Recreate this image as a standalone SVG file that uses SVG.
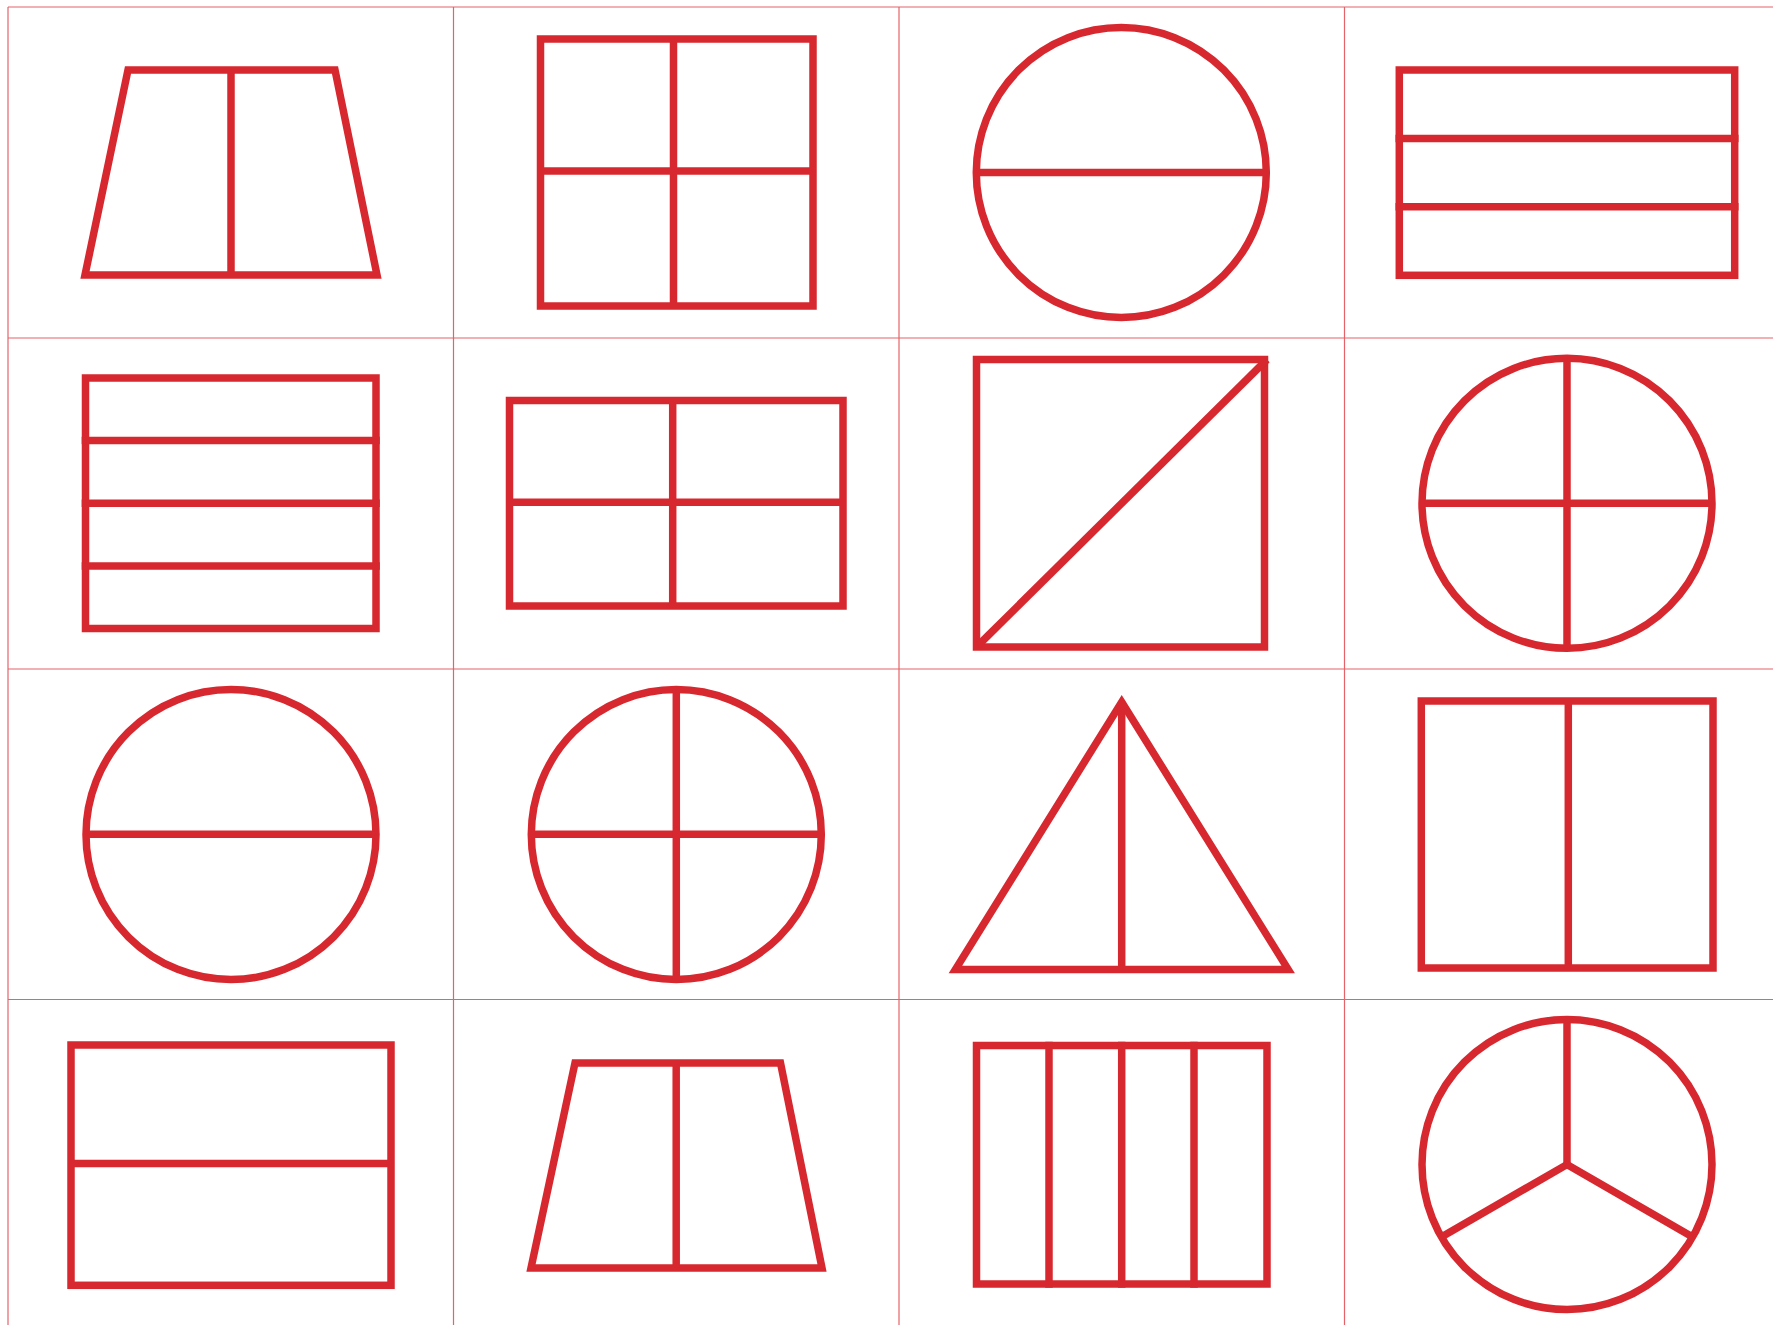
<svg xmlns="http://www.w3.org/2000/svg" width="1773" height="1325" viewBox="0 0 1773 1325">
<style>
.grid{stroke:#e0474e;stroke-width:1.2;fill:none;opacity:0.85}
.s{stroke:#d7282f;stroke-width:7.5;fill:none;stroke-linejoin:miter;stroke-linecap:butt}
</style>
<rect width="1773" height="1325" fill="#ffffff"/>
<g id="grid" class="grid">
<line x1="8" y1="7" x2="8" y2="1325"/>
<line x1="453.5" y1="7" x2="453.5" y2="1325"/>
<line x1="899" y1="7" x2="899" y2="1325"/>
<line x1="1344.5" y1="7" x2="1344.5" y2="1325"/>
<line x1="8" y1="7" x2="1773" y2="7"/>
<line x1="8" y1="338" x2="1773" y2="338"/>
<line x1="8" y1="669" x2="1773" y2="669"/>
<line x1="8" y1="999.5" x2="1773" y2="999.5"/>
</g>
<g id="shape1" class="s">
<polygon points="128,70 335,70 377,275 85,275"/>
<line x1="231" y1="70" x2="231" y2="275"/>
</g>
<g id="shape2" class="s">
<rect x="540.5" y="39" width="272.5" height="267"/>
<line x1="673.5" y1="39" x2="673.5" y2="306"/>
<line x1="540.5" y1="171" x2="813" y2="171"/>
</g>
<g id="shape3" class="s">
<circle cx="1121.3" cy="172.5" r="145"/>
<line x1="976.3" y1="172.5" x2="1266.3" y2="172.5"/>
</g>
<g id="shape4" class="s">
<rect x="1399.3" y="70" width="335.4" height="205.3"/>
<line x1="1395.5" y1="138.5" x2="1738.5" y2="138.5"/>
<line x1="1395.5" y1="206.8" x2="1738.5" y2="206.8"/>
</g>
<g id="shape5" class="s">
<rect x="85.5" y="378" width="290.5" height="250.5"/>
<line x1="81.7" y1="440.6" x2="379.8" y2="440.6"/>
<line x1="81.7" y1="503.3" x2="379.8" y2="503.3"/>
<line x1="81.7" y1="566" x2="379.8" y2="566"/>
</g>
<g id="shape6" class="s">
<rect x="509.5" y="400.5" width="333.5" height="205.5"/>
<line x1="672.7" y1="400.5" x2="672.7" y2="606"/>
<line x1="509.5" y1="502.2" x2="843" y2="502.2"/>
</g>
<g id="shape7" class="s">
<rect x="976.5" y="359.5" width="288" height="287.5"/>
<line x1="977.5" y1="646" x2="1267" y2="359.5"/>
</g>
<g id="shape8" class="s">
<circle cx="1567" cy="503.3" r="145"/>
<line x1="1422" y1="503.3" x2="1712" y2="503.3"/>
<line x1="1567" y1="358.3" x2="1567" y2="648.3"/>
</g>
<g id="shape9" class="s">
<circle cx="231" cy="834.5" r="145"/>
<line x1="86" y1="834.3" x2="376" y2="834.3"/>
</g>
<g id="shape10" class="s">
<circle cx="676.3" cy="834.5" r="145"/>
<line x1="531.3" y1="834.3" x2="821.3" y2="834.3"/>
<line x1="676.3" y1="689.5" x2="676.3" y2="979.5"/>
</g>
<g id="shape11" class="s">
<polygon points="1121.7,702 1288.2,969.5 955.4,969.5"/>
<line x1="1121.7" y1="702" x2="1121.7" y2="969.5"/>
</g>
<g id="shape12" class="s">
<rect x="1421.3" y="701" width="291.7" height="267"/>
<line x1="1568.3" y1="701" x2="1568.3" y2="968"/>
</g>
<g id="shape13" class="s">
<rect x="71" y="1045" width="320" height="240.3"/>
<line x1="71" y1="1163.5" x2="391" y2="1163.5"/>
</g>
<g id="shape14" class="s">
<polygon points="575,1063 780.5,1063 822,1268 531,1268"/>
<line x1="676.2" y1="1063" x2="676.2" y2="1268"/>
</g>
<g id="shape15" class="s">
<rect x="976.5" y="1045.5" width="290.5" height="238.5"/>
<line x1="1049" y1="1041.7" x2="1049" y2="1287.7"/>
<line x1="1121.7" y1="1041.7" x2="1121.7" y2="1287.7"/>
<line x1="1194" y1="1041.7" x2="1194" y2="1287.7"/>
</g>
<g id="shape16" class="s">
<circle cx="1567" cy="1164.5" r="145"/>
<polyline points="1567,1017 1567,1164.5"/>
<polyline points="1441.4,1237 1567,1164.5 1692.6,1237"/>
</g>
</svg>
